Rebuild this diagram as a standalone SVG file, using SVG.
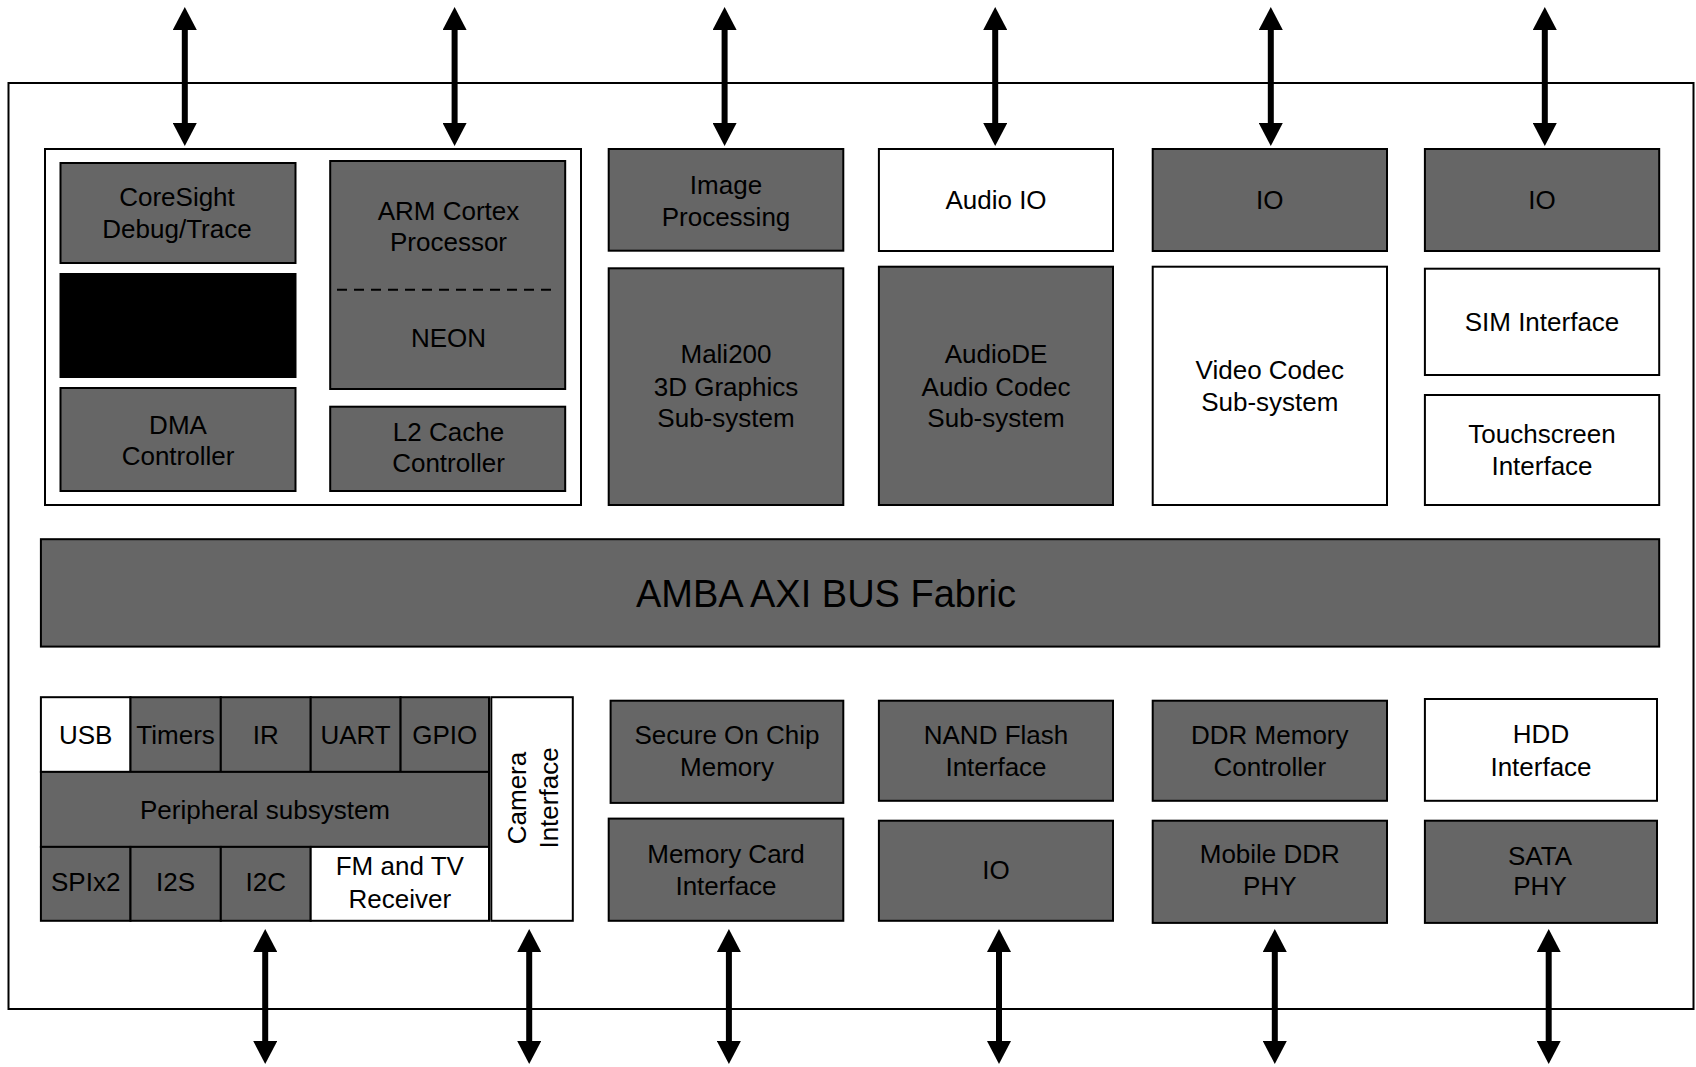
<svg xmlns="http://www.w3.org/2000/svg" width="1696" height="1067" viewBox="0 0 1696 1067">
<style>
  .g { fill: #666666; stroke: #000; stroke-width: 2; }
  .w { fill: #ffffff; stroke: #000; stroke-width: 2; }
  .k { fill: #000000; stroke: #000; stroke-width: 2; }
  text { font-family: "Liberation Sans", Arial, sans-serif; font-size: 26px; fill: #000; text-anchor: middle; }
  .big { font-size: 38px; }
  .conn line { stroke: #000; stroke-width: 6; marker-start: url(#ah); marker-end: url(#ah); }
</style>
<defs>
  <marker id="ah" viewBox="0 0 24 24" markerUnits="userSpaceOnUse" markerWidth="24" markerHeight="24" refX="4" refY="12" orient="auto-start-reverse">
    <path d="M0,0 L23,12 L0,24 z" fill="#000"/>
  </marker>
</defs>
<rect width="1696" height="1067" fill="#fff"/>
<g id="chip"><rect x="8.5" y="83" width="1685" height="926" fill="none" stroke="#000" stroke-width="2"/></g>

<g id="cpu-cluster"><rect class="w" x="45" y="149" width="536" height="356"/></g>
<g id="coresight"><rect class="g" x="60.5" y="163" width="235" height="100"/><text x="177" y="205.5">CoreSight</text><text x="177" y="237.5">Debug/Trace</text></g>
<g id="black-block"><rect class="k" x="60.5" y="274" width="235" height="103"/></g>
<g id="dma"><rect class="g" x="60.5" y="388" width="235" height="103"/><text x="178" y="434">DMA</text><text x="178" y="465">Controller</text></g>
<g id="arm"><rect class="g" x="330.2" y="161" width="235" height="228"/><line x1="337" y1="289.7" x2="553" y2="289.7" stroke="#000" stroke-width="2" stroke-dasharray="10,7"/><text x="448.5" y="220">ARM Cortex</text><text x="448.5" y="251">Processor</text><text x="448.5" y="347">NEON</text></g>
<g id="l2"><rect class="g" x="330.2" y="406.7" width="235" height="84.3"/><text x="448.5" y="441">L2 Cache</text><text x="448.5" y="472">Controller</text></g>

<g id="image-processing"><rect class="g" x="608.7" y="149" width="234.6" height="101.7"/><text x="726" y="194">Image</text><text x="726" y="226">Processing</text></g>
<g id="mali"><rect class="g" x="608.7" y="268.3" width="234.6" height="236.7"/><text x="726" y="363">Mali200</text><text x="726" y="395.5">3D Graphics</text><text x="726" y="427">Sub-system</text></g>
<g id="audio-io"><rect class="w" x="878.9" y="149" width="234.1" height="102"/><text x="996" y="209">Audio IO</text></g>
<g id="audiode"><rect class="g" x="878.9" y="266.7" width="234.1" height="238.3"/><text x="996" y="363">AudioDE</text><text x="996" y="395.5">Audio Codec</text><text x="996" y="427">Sub-system</text></g>
<g id="io-1"><rect class="g" x="1152.7" y="149" width="234.3" height="102"/><text x="1269.8" y="209">IO</text></g>
<g id="video"><rect class="w" x="1152.7" y="266.7" width="234.3" height="238.3"/><text x="1269.8" y="379">Video Codec</text><text x="1269.8" y="411">Sub-system</text></g>
<g id="io-2"><rect class="g" x="1424.9" y="149" width="234.3" height="102"/><text x="1542" y="209">IO</text></g>
<g id="sim"><rect class="w" x="1424.9" y="268.7" width="234.3" height="106.3"/><text x="1542" y="330.5">SIM Interface</text></g>
<g id="touch"><rect class="w" x="1424.9" y="395" width="234.3" height="110"/><text x="1542" y="443">Touchscreen</text><text x="1542" y="475">Interface</text></g>

<g id="bus"><rect class="g" x="40.9" y="539.2" width="1618.3" height="107.4"/><text class="big" x="826" y="606.5">AMBA AXI BUS Fabric</text></g>

<g id="peripheral">
  <g id="usb"><rect class="w" x="40.9" y="697.2" width="89.6" height="74.7"/><text x="85.7" y="744">USB</text></g>
  <g id="timers"><rect class="g" x="130.5" y="697.2" width="90.3" height="74.7"/><text x="175.6" y="744">Timers</text></g>
  <g id="ir"><rect class="g" x="220.8" y="697.2" width="89.9" height="74.7"/><text x="265.7" y="744">IR</text></g>
  <g id="uart"><rect class="g" x="310.7" y="697.2" width="89.9" height="74.7"/><text x="355.6" y="744">UART</text></g>
  <g id="gpio"><rect class="g" x="400.6" y="697.2" width="88.4" height="74.7"/><text x="444.8" y="744">GPIO</text></g>
  <g id="periph-sub"><rect class="g" x="40.9" y="771.9" width="448.1" height="75"/><text x="265" y="818.6">Peripheral subsystem</text></g>
  <g id="spi"><rect class="g" x="40.9" y="846.9" width="89.6" height="73.9"/><text x="85.7" y="891">SPIx2</text></g>
  <g id="i2s"><rect class="g" x="130.5" y="846.9" width="90.3" height="73.9"/><text x="175.6" y="891">I2S</text></g>
  <g id="i2c"><rect class="g" x="220.8" y="846.9" width="89.9" height="73.9"/><text x="265.7" y="891">I2C</text></g>
  <g id="fm-tv"><rect class="w" x="310.7" y="846.9" width="178.3" height="73.9"/><text x="399.8" y="875.4">FM and TV</text><text x="399.8" y="907.5">Receiver</text></g>
</g>
<g id="camera"><rect class="w" x="491.3" y="697.2" width="81.5" height="223.6"/><text transform="translate(532.5,798) rotate(-90)"><tspan x="0" y="-6.9">Camera</tspan><tspan x="0" y="25.5">Interface</tspan></text></g>

<g id="secure"><rect class="g" x="610.6" y="700.7" width="232.7" height="102.2"/><text x="727" y="743.5">Secure On Chip</text><text x="727" y="775.6">Memory</text></g>
<g id="memcard"><rect class="g" x="608.7" y="818.6" width="234.6" height="102.2"/><text x="726" y="863">Memory Card</text><text x="726" y="895">Interface</text></g>
<g id="nand"><rect class="g" x="878.9" y="700.7" width="234.1" height="100.1"/><text x="996" y="743.7">NAND Flash</text><text x="996" y="775.7">Interface</text></g>
<g id="io-3"><rect class="g" x="878.9" y="820.7" width="234.1" height="100.1"/><text x="996" y="879">IO</text></g>
<g id="ddr"><rect class="g" x="1152.7" y="700.7" width="234.3" height="100.1"/><text x="1269.8" y="743.7">DDR Memory</text><text x="1269.8" y="775.7">Controller</text></g>
<g id="mobile-ddr"><rect class="g" x="1152.7" y="820.7" width="234.3" height="102.2"/><text x="1269.8" y="863">Mobile DDR</text><text x="1269.8" y="894.5">PHY</text></g>
<g id="hdd"><rect class="w" x="1424.9" y="699" width="232.1" height="101.8"/><text x="1541" y="743">HDD</text><text x="1541" y="775.6">Interface</text></g>
<g id="sata"><rect class="g" x="1424.9" y="820.7" width="232.1" height="102.2"/><text x="1540" y="864.6">SATA</text><text x="1540" y="895.3">PHY</text></g>

<g id="connectors" class="conn">
  <line x1="184.8" y1="26" x2="184.8" y2="127"/>
  <line x1="454.6" y1="26" x2="454.6" y2="127"/>
  <line x1="724.6" y1="26" x2="724.6" y2="127"/>
  <line x1="995.2" y1="26" x2="995.2" y2="127"/>
  <line x1="1270.8" y1="26" x2="1270.8" y2="127"/>
  <line x1="1544.8" y1="26" x2="1544.8" y2="127"/>
  <line x1="265.2" y1="948" x2="265.2" y2="1045"/>
  <line x1="529.2" y1="948" x2="529.2" y2="1045"/>
  <line x1="728.9" y1="948" x2="728.9" y2="1045"/>
  <line x1="999" y1="948" x2="999" y2="1045"/>
  <line x1="1274.8" y1="948" x2="1274.8" y2="1045"/>
  <line x1="1548.7" y1="948" x2="1548.7" y2="1045"/>
</g>
</svg>
